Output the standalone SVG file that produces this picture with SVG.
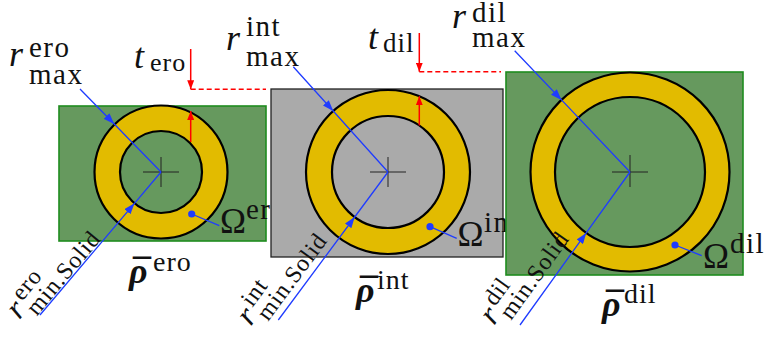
<svg xmlns="http://www.w3.org/2000/svg" width="764" height="337" viewBox="0 0 764 337">
<defs>
<style>
.bg{fill:#ffffff}
.green{fill:#66995e;stroke:#1e8c1e;stroke-width:1.6}
.gray{fill:#aaaaaa;stroke:#222222;stroke-width:1.3}
.ring{fill:#e2bb00;stroke:#000000;stroke-width:2.2}
.holeg{fill:#66995e;stroke:#000000;stroke-width:2.2}
.holea{fill:#aaaaaa;stroke:#000000;stroke-width:2.2}
.cross{stroke:#222222;stroke-width:1;fill:none}
.blue{stroke:#1f3cff;stroke-width:1.3;fill:none}
.red{stroke:#ff0000;stroke-width:1.5;fill:none}
.dash{stroke:#ff0000;stroke-width:1.5;fill:none;stroke-dasharray:5 3}
.dot{fill:#1f3cff}
</style>
<marker id="ab" viewBox="0 0 11 8" refX="11" refY="4" markerWidth="11" markerHeight="8" markerUnits="userSpaceOnUse" orient="auto">
<path d="M0,0 L11,4 L0,8 z" fill="#1f3cff"/>
</marker>
<marker id="ar" viewBox="0 0 9 7" refX="9" refY="3.5" markerWidth="9" markerHeight="7" markerUnits="userSpaceOnUse" orient="auto">
<path d="M0,0 L9,3.5 L0,7 z" fill="#ff0000"/>
</marker>
</defs>
<rect class="bg" x="0" y="0" width="764" height="337"/>

<g id="panel-ero">
<rect class="green" x="59" y="106" width="207" height="135"/>
<circle class="ring" cx="161" cy="172" r="66.5"/>
<circle class="holeg" cx="161" cy="172" r="41"/>
<path class="cross" d="M143,172 H179 M161,157 V187"/>
<text style="font-family:'Liberation Serif',serif" fill="#111" font-size="35" x="220" y="232.7">Ω</text>
<text style="font-family:'Liberation Serif',serif" fill="#111" font-size="29" letter-spacing="1.5" x="246" y="218.5">ero</text>
</g>

<g id="panel-int">
<rect class="gray" x="271" y="89" width="232" height="168"/>
<circle class="ring" cx="388" cy="172" r="82"/>
<circle class="holea" cx="388" cy="172" r="56"/>
<path class="cross" d="M370,172 H406 M388,157 V187"/>
<text style="font-family:'Liberation Serif',serif" fill="#111" font-size="35" x="457.5" y="246">Ω</text>
<text style="font-family:'Liberation Serif',serif" fill="#111" font-size="29" letter-spacing="1.5" x="484" y="232">int</text>
</g>

<g id="panel-dil">
<rect class="green" x="506" y="72" width="237" height="203"/>
<circle class="ring" cx="630" cy="172" r="99.5"/>
<circle class="holeg" cx="630" cy="172" r="75"/>
<path class="cross" d="M612,172 H648 M630,155 V187"/>
<text style="font-family:'Liberation Serif',serif" fill="#111" font-size="35" x="703" y="267.7">Ω</text>
<text style="font-family:'Liberation Serif',serif" fill="#111" font-size="29" letter-spacing="1.5" x="730" y="253">dil</text>
</g>

<g id="connectors">
<path class="blue" marker-mid="url(#ab)" d="M80,89 L114.2,124 L161,172"/>
<path class="blue" marker-mid="url(#ab)" d="M40,315 L134.5,203.3 L161,172"/>
<path class="blue" marker-mid="url(#ab)" d="M293.3,66.7 L333.2,111 L388,172"/>
<path class="blue" marker-mid="url(#ab)" d="M278.3,320 L354.7,217 L388,172"/>
<path class="blue" marker-mid="url(#ab)" d="M514.7,50.7 L561.5,99.9 L630,172"/>
<path class="blue" marker-mid="url(#ab)" d="M520,325 L586.2,232.9 L630,172"/>
<path class="red" marker-end="url(#ar)" d="M190.7,49 V89.3"/>
<path class="red" marker-end="url(#ar)" d="M190.7,142 V111"/>
<path class="dash" d="M190.7,89.3 H266"/>
<path class="red" marker-end="url(#ar)" d="M419.3,33 V71.7"/>
<path class="red" marker-end="url(#ar)" d="M419.3,125.5 V96.2"/>
<path class="dash" d="M419.3,71.7 H501"/>
<circle class="dot" cx="191.7" cy="214" r="3.6"/>
<path class="blue" d="M191.7,214 L219.3,225.7"/>
<circle class="dot" cx="430" cy="226.7" r="3.6"/>
<path class="blue" d="M430,226.7 L456.7,238.3"/>
<circle class="dot" cx="675" cy="245" r="3.6"/>
<path class="blue" d="M675,245 L701.7,255.7"/>
</g>

<g id="label-rmax-ero">
<text style="font-family:'Liberation Serif',serif;font-style:italic" fill="#111" font-size="36" x="9" y="66">r</text>
<text style="font-family:'Liberation Serif',serif" fill="#111" font-size="29" letter-spacing="1.5" x="29" y="57">ero</text>
<text style="font-family:'Liberation Serif',serif" fill="#111" font-size="29" letter-spacing="1.5" x="29" y="84">max</text>
</g>
<g id="label-rmax-int">
<text style="font-family:'Liberation Serif',serif;font-style:italic" fill="#111" font-size="36" x="226" y="50">r</text>
<text style="font-family:'Liberation Serif',serif" fill="#111" font-size="29" letter-spacing="1.5" x="246" y="36">int</text>
<text style="font-family:'Liberation Serif',serif" fill="#111" font-size="29" letter-spacing="1.5" x="246" y="66">max</text>
</g>
<g id="label-rmax-dil">
<text style="font-family:'Liberation Serif',serif;font-style:italic" fill="#111" font-size="36" x="452" y="28">r</text>
<text style="font-family:'Liberation Serif',serif" fill="#111" font-size="29" letter-spacing="1.5" x="472" y="22">dil</text>
<text style="font-family:'Liberation Serif',serif" fill="#111" font-size="29" letter-spacing="1.5" x="472" y="47">max</text>
</g>
<g id="label-t-ero">
<text style="font-family:'Liberation Serif',serif;font-style:italic" fill="#111" font-size="36" x="134" y="68">t</text>
<text style="font-family:'Liberation Serif',serif" fill="#111" font-size="26" letter-spacing="1" x="150" y="71">ero</text>
</g>
<g id="label-t-dil">
<text style="font-family:'Liberation Serif',serif;font-style:italic" fill="#111" font-size="36" x="368" y="49">t</text>
<text style="font-family:'Liberation Serif',serif" fill="#111" font-size="27" letter-spacing="1" x="383" y="52">dil</text>
</g>
<g id="label-rho-ero">
<text style="font-family:'Liberation Serif',serif;font-style:italic;font-weight:bold" fill="#111" font-size="36" x="129" y="283">ρ</text>
<text style="font-family:'Liberation Serif',serif;font-weight:bold" fill="#111" font-size="36" x="133" y="284">¯</text>
<text style="font-family:'Liberation Serif',serif" fill="#111" font-size="28" letter-spacing="1" x="153" y="271">ero</text>
</g>
<g id="label-rho-int">
<text style="font-family:'Liberation Serif',serif;font-style:italic;font-weight:bold" fill="#111" font-size="36" x="356" y="302">ρ</text>
<text style="font-family:'Liberation Serif',serif;font-weight:bold" fill="#111" font-size="36" x="360" y="303">¯</text>
<text style="font-family:'Liberation Serif',serif" fill="#111" font-size="28" letter-spacing="1" x="377" y="289">int</text>
</g>
<g id="label-rho-dil">
<text style="font-family:'Liberation Serif',serif;font-style:italic;font-weight:bold" fill="#111" font-size="36" x="602" y="316">ρ</text>
<text style="font-family:'Liberation Serif',serif;font-weight:bold" fill="#111" font-size="36" x="606" y="317">¯</text>
<text style="font-family:'Liberation Serif',serif" fill="#111" font-size="28" letter-spacing="1" x="624" y="303">dil</text>
</g>
<g id="label-rmin-ero" transform="translate(36.7,316.7) rotate(-50)">
<text style="font-family:'Liberation Serif',serif;font-style:italic" fill="#111" font-size="32" x="-14" y="-11">r</text>
<text style="font-family:'Liberation Serif',serif" fill="#111" font-size="24" letter-spacing="0.8" x="2" y="-21">ero</text>
<text style="font-family:'Liberation Serif',serif" fill="#111" font-size="24" letter-spacing="0.8" x="0" y="0">min.Solid</text>
</g>
<g id="label-rmin-int" transform="translate(268,322) rotate(-53.5)">
<text style="font-family:'Liberation Serif',serif;font-style:italic" fill="#111" font-size="32" x="-14" y="-11">r</text>
<text style="font-family:'Liberation Serif',serif" fill="#111" font-size="24" letter-spacing="0.8" x="2" y="-21">int</text>
<text style="font-family:'Liberation Serif',serif" fill="#111" font-size="24" letter-spacing="0.8" x="0" y="0">min.Solid</text>
</g>
<g id="label-rmin-dil" transform="translate(511,321) rotate(-54.3)">
<text style="font-family:'Liberation Serif',serif;font-style:italic" fill="#111" font-size="32" x="-14" y="-11">r</text>
<text style="font-family:'Liberation Serif',serif" fill="#111" font-size="24" letter-spacing="0.8" x="2" y="-21">dil</text>
<text style="font-family:'Liberation Serif',serif" fill="#111" font-size="24" letter-spacing="0.8" x="0" y="0">min.Solid</text>
</g>
</svg>
